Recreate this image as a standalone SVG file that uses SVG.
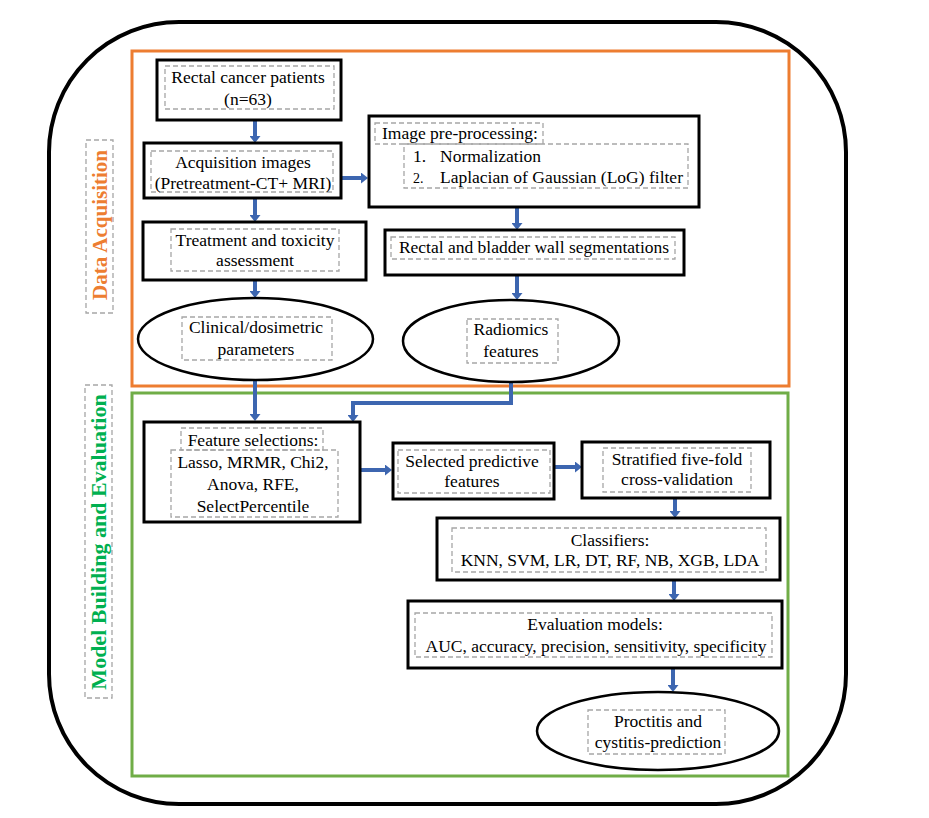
<svg xmlns="http://www.w3.org/2000/svg" width="929" height="818" viewBox="0 0 929 818">
<defs>
<style>
.box{fill:#fff;stroke:#000;stroke-width:3}
.ell{fill:#fff;stroke:#000;stroke-width:2.5}
.dash{fill:none;stroke:#A6A6A6;stroke-width:1.3;stroke-dasharray:5,3}
.t{font-family:"Liberation Serif","Times New Roman",serif;font-size:17.5px;fill:#000;text-anchor:middle}
.tl{font-family:"Liberation Serif","Times New Roman",serif;font-size:17.5px;fill:#000}
.arr{fill:none;stroke:#3D66B0;stroke-width:4;marker-end:url(#ah)}
.vl{font-family:"Liberation Serif","Times New Roman",serif;font-size:21px;font-weight:bold;text-anchor:middle}
</style>
<marker id="ah" markerUnits="userSpaceOnUse" markerWidth="7" markerHeight="11" viewBox="0 0 7 11" refX="1" refY="5.5" orient="auto">
<path d="M0,0 L7,5.5 L0,11 z" fill="#3D66B0"/>
</marker>
</defs>
<rect width="929" height="818" fill="#fff"/>
<rect x="49" y="22" width="797" height="782" rx="130" ry="130" fill="none" stroke="#000" stroke-width="4"/>
<rect x="132" y="51" width="657" height="335" fill="none" stroke="#ED7D31" stroke-width="3"/>
<rect x="132" y="393" width="656" height="383" fill="none" stroke="#70AD47" stroke-width="3"/>

<g id="label-data">
<rect class="dash" x="86" y="140" width="27" height="173"/>
<text class="vl" fill="#ED7D31" transform="translate(107,225) rotate(-90)">Data Acquisition</text>
</g>
<g id="label-model">
<rect class="dash" x="85" y="385" width="27" height="313"/>
<text class="vl" fill="#00B050" style="font-size:22px" transform="translate(106,542) rotate(-90)">Model Building and Evaluation</text>
</g>

<g id="connectors">
<path class="arr" d="M255,120 V137"/>
<path class="arr" d="M255,198 V216"/>
<path class="arr" d="M255,280 V292"/>
<path class="arr" d="M255,380 V415"/>
<path class="arr" d="M341,178 H362"/>
<path class="arr" d="M517,207 V224"/>
<path class="arr" d="M517,275 V294"/>
<path class="arr" d="M511,380 V403 H353 V416"/>
<path class="arr" d="M360,470 H386"/>
<path class="arr" d="M554,467 H576"/>
<path class="arr" d="M675,498 V512"/>
<path class="arr" d="M674,580 V595"/>
<path class="arr" d="M673,668 V686"/>
</g>

<g id="n-patients">
<rect class="box" x="157" y="60" width="184" height="60"/>
<rect class="dash" x="165" y="66" width="169" height="43"/>
<text class="t" x="248" y="83">Rectal cancer patients</text>
<text class="t" x="248" y="105">(n=63)</text>
</g>

<g id="n-acquisition">
<rect class="box" x="144" y="143" width="197" height="55"/>
<rect class="dash" x="151" y="151" width="182" height="41"/>
<text class="t" x="243" y="168">Acquisition images</text>
<text class="t" x="243" y="189">(Pretreatment-CT+ MRI)</text>
</g>

<g id="n-preprocessing">
<rect class="box" x="369" y="116" width="330" height="91"/>
<rect class="dash" x="375" y="123" width="168" height="21"/>
<rect class="dash" x="404" y="144" width="284" height="44"/>
<text class="tl" x="382" y="139">Image pre-processing:</text>
<text class="tl" x="413" y="162">1.</text>
<text class="tl" x="440" y="162">Normalization</text>
<text class="tl" x="413" y="183" style="font-size:14px">2.</text>
<text class="tl" x="440" y="183">Laplacian of Gaussian (LoG) filter</text>
</g>

<g id="n-treatment">
<rect class="box" x="143" y="222" width="223" height="58"/>
<rect class="dash" x="171" y="229" width="168" height="42"/>
<text class="t" x="255" y="246">Treatment and toxicity</text>
<text class="t" x="255" y="266">assessment</text>
</g>

<g id="n-segmentation">
<rect class="box" x="385" y="230" width="299" height="45"/>
<rect class="dash" x="391" y="237" width="284" height="22"/>
<text class="t" x="534" y="253">Rectal and bladder wall segmentations</text>
</g>

<g id="n-clinical">
<ellipse class="ell" cx="255.5" cy="339" rx="117.5" ry="41"/>
<rect class="dash" x="182" y="317" width="150" height="43"/>
<text class="t" x="256" y="333">Clinical/dosimetric</text>
<text class="t" x="256" y="355">parameters</text>
</g>

<g id="n-radiomics">
<ellipse class="ell" cx="511" cy="341" rx="108" ry="41"/>
<rect class="dash" x="467" y="319" width="91" height="44"/>
<text class="t" x="511" y="335">Radiomics</text>
<text class="t" x="511" y="357">features</text>
</g>

<g id="n-feature-selection">
<rect class="box" x="144" y="422" width="216" height="100"/>
<rect class="dash" x="181" y="428" width="142" height="22"/>
<rect class="dash" x="171" y="450" width="167" height="67"/>
<text class="t" x="253" y="446">Feature selections:</text>
<text class="t" x="253" y="468">Lasso, MRMR, Chi2,</text>
<text class="t" x="253" y="490">Anova, RFE,</text>
<text class="t" x="253" y="512">SelectPercentile</text>
</g>

<g id="n-selected">
<rect class="box" x="393" y="443" width="161" height="56"/>
<rect class="dash" x="398" y="450" width="152" height="43"/>
<text class="t" x="472" y="467">Selected predictive</text>
<text class="t" x="472" y="487">features</text>
</g>

<g id="n-stratified">
<rect class="box" x="582" y="442" width="188" height="56"/>
<rect class="dash" x="603" y="448" width="148" height="44"/>
<text class="t" x="677" y="465">Stratified five-fold</text>
<text class="t" x="677" y="485">cross-validation</text>
</g>

<g id="n-classifiers">
<rect class="box" x="437" y="518" width="343" height="62"/>
<rect class="dash" x="452" y="528" width="314" height="44"/>
<text class="t" x="610" y="546">Classifiers:</text>
<text class="t" x="610" y="566">KNN, SVM, LR, DT, RF, NB, XGB, LDA</text>
</g>

<g id="n-evaluation">
<rect class="box" x="408" y="601" width="374" height="67"/>
<rect class="dash" x="415" y="613" width="357" height="44"/>
<text class="t" x="595" y="630">Evaluation models:</text>
<text class="t" x="596" y="652">AUC, accuracy, precision, sensitivity, specificity</text>
</g>

<g id="n-prediction">
<ellipse class="ell" cx="658" cy="731" rx="121" ry="39"/>
<rect class="dash" x="588" y="710" width="137" height="44"/>
<text class="t" x="658" y="727">Proctitis and</text>
<text class="t" x="658" y="748">cystitis-prediction</text>
</g>
</svg>
